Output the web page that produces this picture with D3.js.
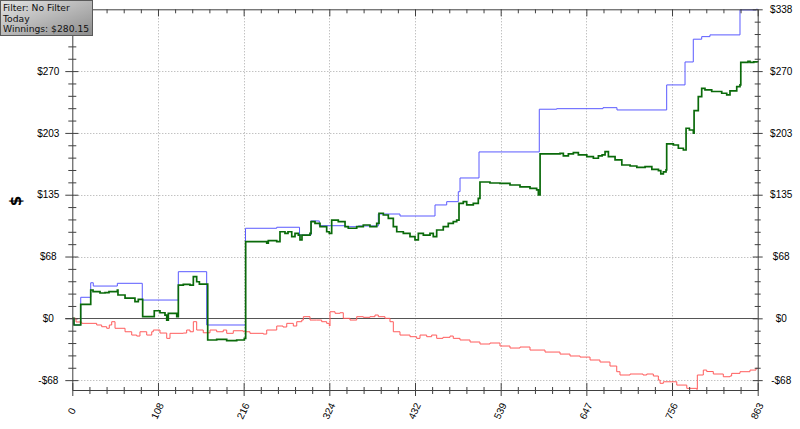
<!DOCTYPE html>
<html><head><meta charset="utf-8">
<script src="https://cdn.jsdelivr.net/npm/d3@7"></script>
<style>body{margin:0;background:#fff}svg{display:block}</style>
</head><body>
<svg id="c" width="800" height="429"></svg>
<script>
const handsMax = 863;
const dollarMin = -78.4, dollarMax = 338;
const xTickValues = [0,107.875,215.75,323.625,431.5,539.375,647.25,755.125,863];
const xTickLabels = ["0","108","216","324","432","539","647","756","863"];
const yTickValues = [-67.6,0,67.6,135.2,202.8,270.4,338];
const yTickLabels = ["-$68","$0","$68","$135","$203","$270","$338"];
const legendLines = ["Filter: No Filter","Today","Winnings: $280.15"];
const yTitle = "$";

// [hand, dollars]
const blueSeries = [[0,0],[2.1,-7.3],[10.6,23.0],[23.2,38.9],[26.4,35.3],[56.7,38.3],[88.1,20.0],[133.5,51.0],[169.2,-7.3],[218.1,98.5],[257.4,99.6],[286.1,91.1],[300.6,106.5],[311.0,101.3],[343.4,100.2],[360,101.0],[385.3,114.1],[412.6,111.9],[456.7,124.0],[471.4,127.6],[486.0,138.5],[488.2,153.5],[512.1,182.0],[588.0,228.7],[609.9,229.3],[668.2,230.4],[685.8,227.9],[748.4,255.3],[771.5,280.4],[781.9,305.3],[792.5,308.1],[802.9,310.0],[840.7,337.3],[861,338],[863,338]];

const greenSeries = [[0,0],[2.1,-7.3],[10.6,15.3],[23.2,31.0],[26.1,29.1],[34.9,27.7],[41.2,28.0],[46.2,29.1],[56.7,31.0],[57.5,25.5],[66.4,22.2],[78.9,18.2],[83.1,20.8],[88.6,1.8],[103.2,8.3],[110.4,6.1],[116.7,3.6],[118.9,-1.9],[120.9,5.5],[131.5,1.8],[133.5,36.4],[139.8,37.2],[148.2,36.4],[152.4,45.5],[156.6,40.0],[160,37.5],[170.5,-23.7],[181.8,-23.0],[194.4,-24.5],[207.0,-23.7],[216.6,-21.9],[218.3,83.8],[244.8,82.1],[246.8,84.9],[257.4,83.8],[261.5,94.7],[267.8,93.0],[271.6,94.7],[276.3,89.3],[280.4,93.0],[284.6,91.1],[286.7,85.7],[289.2,91.1],[299.3,93.0],[300.6,105.7],[305.6,103.9],[311.9,100.2],[320.3,94.7],[323.6,93.0],[326.6,107.5],[334.9,105.7],[343.4,100.2],[347.5,98.5],[358.1,100.2],[366.4,102.1],[374.8,100.2],[383.3,103.9],[386.2,114.9],[391.6,113.0],[397.9,109.4],[404.2,100.2],[408.5,94.7],[416.8,93.0],[425.2,89.3],[431.5,85.7],[435.7,93.0],[442.0,91.1],[450.4,93.0],[454.5,89.3],[458.8,96.6],[467.1,100.2],[473.4,103.9],[479.7,105.7],[484.0,107.5],[486.9,125.8],[492.3,127.6],[496.6,124.0],[504.9,125.8],[511.2,131.3],[513.3,149.1],[525.9,148.0],[538.5,147.5],[551.1,145.8],[563.7,143.7],[576.3,142.2],[584.7,140.4],[586.8,134.9],[589.0,179.8],[614.1,180.5],[618.3,177.6],[624.6,179.8],[630.9,181.2],[637.2,178.7],[647.8,176.8],[656.1,175.1],[662.4,177.6],[667.1,178.7],[670.8,182.3],[675.0,176.8],[683.4,173.2],[691.9,167.7],[702.3,166.6],[710.8,165.2],[721.2,165.9],[729.7,163.0],[738.0,161.5],[741.0,157.9],[744.2,160.1],[747.6,162.3],[748.4,190.7],[756.8,189.6],[763.1,186.0],[769.4,184.1],[772.8,207.9],[777.0,206.0],[782.0,202.4],[782.9,227.1],[788.2,242.5],[792.5,251.6],[796.6,249.8],[805.1,248.1],[817.7,246.2],[824.0,244.3],[828.1,248.7],[836.6,253.4],[840.7,255.3],[841.7,279.9],[850.8,281.0],[853.3,279.9],[858,280.6],[863,280.15]];

const redSeries = [[0,0],[4.7,-4.0],[11.8,-5.5],[22.3,-5.5],[30.7,-7.3],[37.0,-9.2],[43.3,-10.9],[46.6,-7.3],[49.6,-3.7],[53.8,-10.9],[66.4,-14.7],[74.8,-18.3],[81.1,-19.4],[85.2,-14.7],[93.7,-18.3],[100.0,-14.7],[102.0,-12.8],[110.4,-16.1],[118.9,-21.9],[123.0,-16.4],[139.8,-16.1],[144.0,-12.8],[148.2,-14.7],[152.4,-3.7],[156.6,-12.8],[164.9,-15.8],[173.4,-12.8],[181.8,-14.7],[190.1,-12.8],[194.4,-16.4],[202.7,-13.6],[215.3,-14.7],[223.7,-16.4],[240.5,-17.2],[244.8,-12.8],[257.4,-8.4],[265.3,-9.5],[270.0,-5.5],[278.3,-8.4],[282.6,-3.7],[288.9,-1.9],[290.9,1.8],[299.3,-1.9],[307.7,-1.9],[314.0,-3.7],[320.3,-5.5],[323.6,-8.4],[324.5,7.2],[330.8,5.5],[337.1,6.1],[341.2,0],[349.6,-1.9],[358.1,1.8],[366.4,1.1],[374.8,1.8],[381.1,3.6],[385.3,1.8],[393.7,0],[400.0,-3.7],[404.2,-14.7],[412.6,-18.3],[425.2,-20.1],[433.6,-21.9],[437.8,-18.3],[446.2,-20.1],[452.5,-18.3],[458.8,-21.9],[466.7,-20.8],[475.6,-19.4],[479.7,-21.9],[488.2,-23.7],[500.8,-25.9],[513.3,-28.1],[525.9,-27.0],[538.5,-30.3],[551.1,-32.5],[563.7,-31.4],[576.3,-34.7],[595.2,-36.9],[614.1,-39.1],[626.7,-41.2],[639.3,-42.4],[651.9,-45.6],[664.4,-47.8],[677.0,-52.2],[685.5,-58.4],[689.6,-62.0],[702.3,-60.9],[718.6,-62.0],[723.3,-60.9],[731.6,-63.1],[737.9,-67.5],[740.1,-71.1],[744.2,-69.4],[754.8,-69.4],[761.1,-73.0],[773.7,-76.6],[786.2,-77.7],[787.0,-62.0],[794.5,-56.6],[798.8,-58.2],[807.1,-60.9],[819.7,-63.9],[828.1,-63.1],[830.2,-60.2],[840.7,-58.4],[853.3,-56.6],[860.9,-54.7],[863,-54.4]];

const svg = d3.select("#c");
const x = d3.scaleLinear().domain([0, handsMax]).range([72.3, 757.7]);
const y = d3.scaleLinear().domain([dollarMin, dollarMax]).range([390, 9.3]);
const axisColor = "#404040";
const labelFont = "'Liberation Sans', Arial, sans-serif";

// grid
const grid = svg.append("g");
grid.selectAll("line.v").data(xTickValues.slice(1, -1)).join("line")
  .attr("x1", d => Math.round(x(d)) + 0.5).attr("x2", d => Math.round(x(d)) + 0.5)
  .attr("y1", y(dollarMax)).attr("y2", y(dollarMin))
  .attr("stroke", "#a8a8a8").attr("stroke-dasharray", "1,2");
grid.selectAll("line.h").data(yTickValues.filter(d => d !== 0 && d !== dollarMax)).join("line")
  .attr("x1", x(0)).attr("x2", x(handsMax))
  .attr("y1", d => Math.round(y(d)) + 0.5).attr("y2", d => Math.round(y(d)) + 0.5)
  .attr("stroke", "#a8a8a8").attr("stroke-dasharray", "1,2");
svg.append("line").attr("x1", x(0) - 7).attr("x2", x(handsMax))
  .attr("y1", Math.round(y(0)) + 0.5).attr("y2", Math.round(y(0)) + 0.5)
  .attr("stroke", "#555");

// series
const stepLine = d3.line().x(d => x(d[0])).y(d => y(d[1])).curve(d3.curveStepAfter);
svg.append("path").datum(blueSeries).attr("d", stepLine).attr("fill", "none").attr("stroke", "#5a5aff").attr("stroke-width", 1);
svg.append("path").datum(redSeries).attr("d", stepLine).attr("fill", "none").attr("stroke", "#ff5c5c").attr("stroke-width", 1);
svg.append("path").datum(greenSeries).attr("d", stepLine).attr("fill", "none").attr("stroke", "#0a6a0a").attr("stroke-width", 1.7);

// minor tick values
const xMinor = d3.range(0, handsMax + 0.01, xTickValues[1] / 5).filter((d, i) => i % 5 !== 0);
const yMinor = [];
for (let v = yTickValues[0]; v <= dollarMax + 0.01; v += 13.52) yMinor.push(+v.toFixed(2));
const yMinorF = yMinor.filter((d, i) => i % 5 !== 0 && d >= dollarMin);

function styleAxis(g) {
  g.select(".domain").attr("stroke", axisColor);
  g.selectAll(".tick line").attr("stroke", axisColor);
  g.selectAll(".tick text").attr("fill", "#000").style("font-family", labelFont).style("font-size", "10px");
}

// left axis (top label hidden under the legend box in the reference)
const gL = svg.append("g").attr("transform", `translate(${x(0)},0)`)
  .call(d3.axisLeft(y).tickValues(yTickValues).tickFormat((d, i) => d === dollarMax ? "" : yTickLabels[i]).tickSize(7).tickSizeOuter(0));
styleAxis(gL);
gL.selectAll(".tick line").attr("x1", 6);
gL.selectAll(".tick text").attr("x", -24).attr("text-anchor", "middle");
const gLm = svg.append("g").attr("transform", `translate(${x(0)},0)`)
  .call(d3.axisLeft(y).tickValues(yMinorF).tickFormat("").tickSize(4).tickSizeOuter(0));
styleAxis(gLm); gLm.select(".domain").remove(); gLm.selectAll(".tick line").attr("x1", 4);

// right axis
const gR = svg.append("g").attr("transform", `translate(${x(handsMax)},0)`)
  .call(d3.axisRight(y).tickValues(yTickValues).tickFormat((d, i) => yTickLabels[i]).tickSize(5).tickSizeOuter(0));
styleAxis(gR);
gR.selectAll(".tick line").attr("x1", -5);
gR.selectAll(".tick text").attr("x", 23.5).attr("text-anchor", "middle");
const gRm = svg.append("g").attr("transform", `translate(${x(handsMax)},0)`)
  .call(d3.axisRight(y).tickValues(yMinorF).tickFormat("").tickSize(3).tickSizeOuter(0));
styleAxis(gRm); gRm.select(".domain").remove(); gRm.selectAll(".tick line").attr("x1", -3);

// bottom axis
const gB = svg.append("g").attr("transform", `translate(0,${y(dollarMin)})`)
  .call(d3.axisBottom(x).tickValues(xTickValues).tickFormat((d, i) => xTickLabels[i]).tickSize(6).tickSizeOuter(0));
styleAxis(gB);
gB.selectAll(".tick line").attr("y1", -7);
gB.selectAll(".tick text").attr("y", null).attr("dy", "0.35em").attr("text-anchor", "middle")
  .attr("transform", "translate(-1,21) rotate(-65)");
const gBm = svg.append("g").attr("transform", `translate(0,${y(dollarMin)})`)
  .call(d3.axisBottom(x).tickValues(xMinor).tickFormat("").tickSize(4).tickSizeOuter(0));
styleAxis(gBm); gBm.select(".domain").remove(); gBm.selectAll(".tick line").attr("y1", -3);

// top axis (ticks pointing down)
const gT = svg.append("g").attr("transform", `translate(0,${y(dollarMax)})`)
  .call(d3.axisBottom(x).tickValues(xTickValues).tickFormat("").tickSize(7).tickSizeOuter(0));
styleAxis(gT);
const gTm = svg.append("g").attr("transform", `translate(0,${y(dollarMax)})`)
  .call(d3.axisBottom(x).tickValues(xMinor).tickFormat("").tickSize(4).tickSizeOuter(0));
styleAxis(gTm); gTm.select(".domain").remove();

// y title
svg.append("text").attr("transform", "translate(16,201) rotate(-90)")
  .attr("text-anchor", "middle").attr("dominant-baseline", "central")
  .style("font-family", "'DejaVu Sans', Verdana, sans-serif").style("font-weight", "bold").style("font-size", "15px")
  .text(yTitle);

// legend box
const defs = svg.append("defs");
const grad = defs.append("linearGradient").attr("id", "lg").attr("x1", "0").attr("y1", "0").attr("x2", "1").attr("y2", "1");
grad.append("stop").attr("offset", "0").attr("stop-color", "#e4e4e4");
grad.append("stop").attr("offset", "1").attr("stop-color", "#8c8c8c");
svg.append("rect").attr("x", 0.5).attr("y", 0.5).attr("width", 92).attr("height", 35)
  .attr("fill", "url(#lg)").attr("stroke", "#5a5a5a");
svg.append("g").selectAll("text").data(legendLines).join("text")
  .attr("x", 3).attr("y", (d, i) => 11 + i * 10.5)
  .style("font-family", "'DejaVu Sans', Verdana, sans-serif").style("font-size", "9.2px").attr("fill", "#111")
  .text(d => d);
</script>
</body></html>
